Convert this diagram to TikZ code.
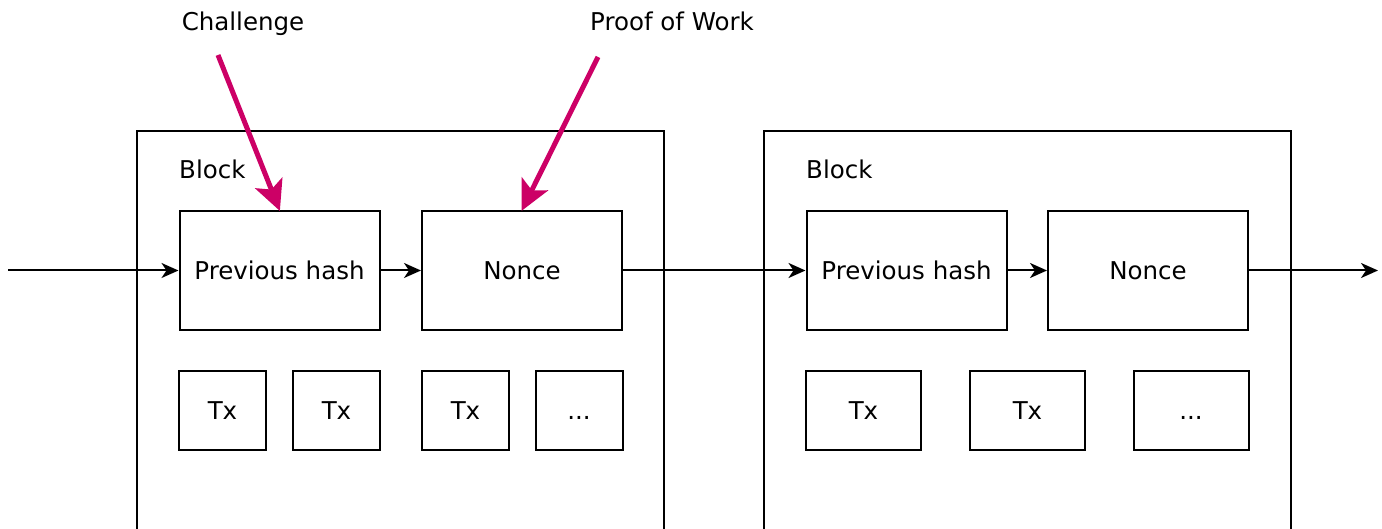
\documentclass[tikz,border=0pt]{standalone}
\usepackage{fontspec}
\setmainfont{DejaVu Sans}
\usetikzlibrary{arrows.meta}
\definecolor{hl}{HTML}{CC0066}
\begin{document}
\begin{tikzpicture}[x=1pt,y=-1pt,
  every node/.style={font=\fontsize{24.5}{29}\selectfont,text height=20pt,text depth=2pt},
  box/.style={draw=black,line width=2pt,fill=white,inner sep=0pt,rectangle},
  blockbox/.style={draw=black,line width=2pt,inner sep=0pt,rectangle,minimum width=527pt,minimum height=440pt},
  hashbox/.style={box,minimum width=200pt,minimum height=119pt},
  txbox/.style={box,minimum height=79pt},
  flow/.style={draw=black,line width=2pt,-{Stealth[length=17pt,width=15pt,inset=5pt]}},
  pow/.style={draw=hl,line width=5pt,-{Stealth[length=30pt,width=29pt,inset=7pt]},shorten >=-1pt},
  lbl/.style={inner sep=0pt}]
\clip (0,0) rectangle (1382,529);
\fill[white] (0,0) rectangle (1382,529);

% blocks
\node[blockbox] (blk1) at (400.5,351) {};
\node[blockbox] (blk2) at (1027.5,351) {};
\node[lbl,anchor=west] (bl1) at (179,170) {Block};
\node[lbl,anchor=west] (bl2) at (806,170) {Block};

% header fields
\node[hashbox] (ph1) at (279.5,270.5) {Previous hash};
\node[hashbox] (n1)  at (522,270.5)   {Nonce};
\node[hashbox] (ph2) at (906.5,270.5) {Previous hash};
\node[hashbox] (n2)  at (1148,270.5)  {Nonce};

% transactions, first block
\node[txbox,minimum width=87pt] (t11) at (222.5,410.5) {Tx};
\node[txbox,minimum width=87pt] (t12) at (336.5,410.5) {Tx};
\node[txbox,minimum width=87pt] (t13) at (465.5,410.5) {Tx};
\node[txbox,minimum width=87pt] (t14) at (579,410.5)   {...};

% transactions, second block
\node[txbox,minimum width=115pt] (t21) at (863.5,410.5)  {Tx};
\node[txbox,minimum width=115pt] (t22) at (1027.5,410.5) {Tx};
\node[txbox,minimum width=115pt] (t23) at (1191,410.5)   {...};

% chain links
\coordinate (cin)  at (8,270.5);
\coordinate (cout) at (1378,270.5);
\draw[flow] (cin) -- (ph1.west);
\draw[flow] (ph1.east) -- (n1.west);
\draw[flow] (n1.east) -- (ph2.west);
\draw[flow] (ph2.east) -- (n2.west);
\draw[flow] (n2.east) -- (cout);

% annotations
\node[lbl] (ch) at (243,22) {Challenge};
\node[lbl] (pw) at (672,22) {Proof of Work};
\coordinate (chs) at (218,55);
\coordinate (pws) at (598,57);
\draw[pow] (chs) -- (ph1.north);
\draw[pow] (pws) -- (n1.north);
\end{tikzpicture}
\end{document}
